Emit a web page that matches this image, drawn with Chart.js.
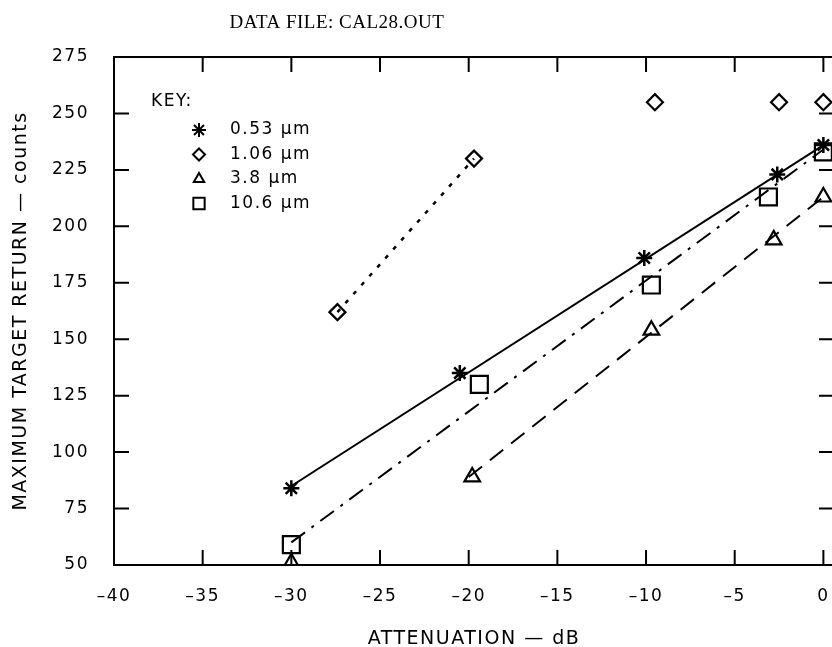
<!DOCTYPE html>
<html lang="en">
<head>
<meta charset="UTF-8">
<title>CAL28.OUT</title>
<script src="https://cdn.jsdelivr.net/npm/chart.js"></script>
<style>
  html, body { margin: 0; padding: 0; background: white; overflow: hidden; }
  canvas { display: block; }
</style>
</head>
<body>
<!-- wider than the window: the right edge of the frame is cropped off, as in the scan -->
<canvas id="cal" width="850" height="647"></canvas>
<script>
  const x053 = [-30, -20.5, -10.1, -2.6, 0];
  const y053 = [84, 135, 186, 223, 236];
  const x106 = [-27.4, -19.7, -9.5, -2.5, 0];
  const y106 = [162, 230, 255, 255, 255];
  const x38 = [-30, -19.8, -9.7, -2.8, 0];
  const y38 = [51, 89, 154, 194, 213];
  const x106b = [-30, -19.4, -9.7, -3.1, 0];
  const y106b = [59, 130, 174, 213, 233];

  // straight fit lines drawn on the plot (end points)
  const fit053 = { x: [-30, 0], y: [85, 236] };
  const fit106 = { x: [-27.4, -19.7], y: [162, 230] };
  const fit38 = { x: [-20, 0], y: [89, 213] };
  const fit106b = { x: [-30, 0], y: [60, 234] };

  const keyLabels = ["0.53 \u00b5m", "1.06 \u00b5m", "3.8 \u00b5m", "10.6 \u00b5m"];
  const keyStyles = ["star", "rectRot", "triangle", "rect"];

  function pts(xs, ys) {
    return xs.map((x, i) => ({ x: x, y: ys[i] }));
  }

  function fitLine(f, dash, width) {
    return {
      data: pts(f.x, f.y),
      showLine: true,
      borderColor: "black",
      borderWidth: width,
      borderDash: dash,
      pointRadius: 0,
      fill: false
    };
  }

  function marks(xs, ys, style, r, w) {
    return {
      data: pts(xs, ys),
      showLine: false,
      pointStyle: style,
      pointRadius: r,
      pointBorderColor: "black",
      pointBackgroundColor: "white",
      pointBorderWidth: w
    };
  }

  // title, box, inward ticks and the key
  const decor = {
    id: "decor",
    beforeDraw(chart) {
      // the plotter lettering is wide
      chart.ctx.letterSpacing = "1.5px";
    },
    afterDraw(chart) {
      const c = chart.ctx;
      const a = chart.chartArea;
      const xs = chart.scales.x, ys = chart.scales.y;
      c.save();
      c.strokeStyle = "black";
      c.lineWidth = 2;
      c.strokeRect(a.left, a.top, a.right - a.left, a.bottom - a.top);
      const t = 15;
      c.beginPath();
      xs.ticks.forEach(tk => {
        const px = xs.getPixelForValue(tk.value);
        c.moveTo(px, a.top); c.lineTo(px, a.top + t);
        c.moveTo(px, a.bottom); c.lineTo(px, a.bottom - t);
      });
      ys.ticks.forEach(tk => {
        const py = ys.getPixelForValue(tk.value);
        c.moveTo(a.left, py); c.lineTo(a.left + t, py);
        c.moveTo(a.right, py); c.lineTo(a.right - t, py);
      });
      c.stroke();

      c.fillStyle = "black";
      c.letterSpacing = "0.5px";
      c.font = "19px 'Liberation Serif'";
      c.textAlign = "center";
      c.textBaseline = "middle";
      c.fillText("DATA FILE: CAL28.OUT", 337, 23);

      c.letterSpacing = "1.5px";
      c.font = "17px 'DejaVu Sans'";
      c.textAlign = "left";
      c.fillText("KEY:", 151, 102);
      const sizes = [7, 6, 6, 8];
      keyLabels.forEach((lab, i) => {
        const yy = 130 + i * 24.5;
        c.fillStyle = "white";
        Chart.helpers.drawPoint(c, {
          pointStyle: keyStyles[i], radius: sizes[i], borderWidth: 2.5, rotation: 0
        }, 199, yy);
        c.fillStyle = "black";
        c.fillText(lab, 230, yy);
      });
      c.restore();
    }
  };

  const tickFont = { family: "'DejaVu Sans'", size: 17 };

  new Chart(document.getElementById("cal"), {
    type: "scatter",
    data: {
      datasets: [
        fitLine(fit053, [], 2),
        fitLine(fit106, [4, 8], 2.5),
        fitLine(fit38, [17, 10], 2),
        fitLine(fit106b, [17, 8, 3, 8], 2),
        marks(x053, y053, "star", 8, 2.5),
        marks(x106, y106, "rectRot", 8, 2.2),
        marks(x38, y38, "triangle", 9, 2.2),
        marks(x106b, y106b, "rect", 12, 2.2)
      ]
    },
    options: {
      responsive: false,
      animation: false,
      layout: { padding: { left: 0, right: 0, top: 57, bottom: 0 } },
      plugins: { legend: { display: false }, tooltip: { enabled: false } },
      scales: {
        x: {
          type: "linear",
          min: -40,
          max: 0.6,
          afterFit: s => { s.height = 82; },
          grid: { display: false, drawTicks: false },
          border: { display: false },
          ticks: {
            stepSize: 5,
            includeBounds: false,
            padding: 21,
            color: "black",
            font: tickFont,
            maxRotation: 0,
            callback: v => String(v).replace("-", "\u2013")
          },
          title: {
            display: true,
            text: "ATTENUATION \u2014 dB",
            color: "black",
            font: { family: "'DejaVu Sans'", size: 19, lineHeight: 0.8 },
            padding: { top: 0, bottom: 0 }
          }
        },
        y: {
          type: "linear",
          min: 50,
          max: 275,
          afterFit: s => { s.width = 114; },
          grid: { display: false, drawTicks: false },
          border: { display: false },
          ticks: {
            stepSize: 25,
            padding: 25,
            color: "black",
            font: tickFont
          },
          title: {
            display: true,
            text: "MAXIMUM TARGET RETURN \u2014 counts",
            color: "black",
            font: { family: "'DejaVu Sans'", size: 19 },
            padding: { top: 10, bottom: 0 }
          }
        }
      }
    },
    plugins: [decor]
  });
</script>
</body>
</html>
